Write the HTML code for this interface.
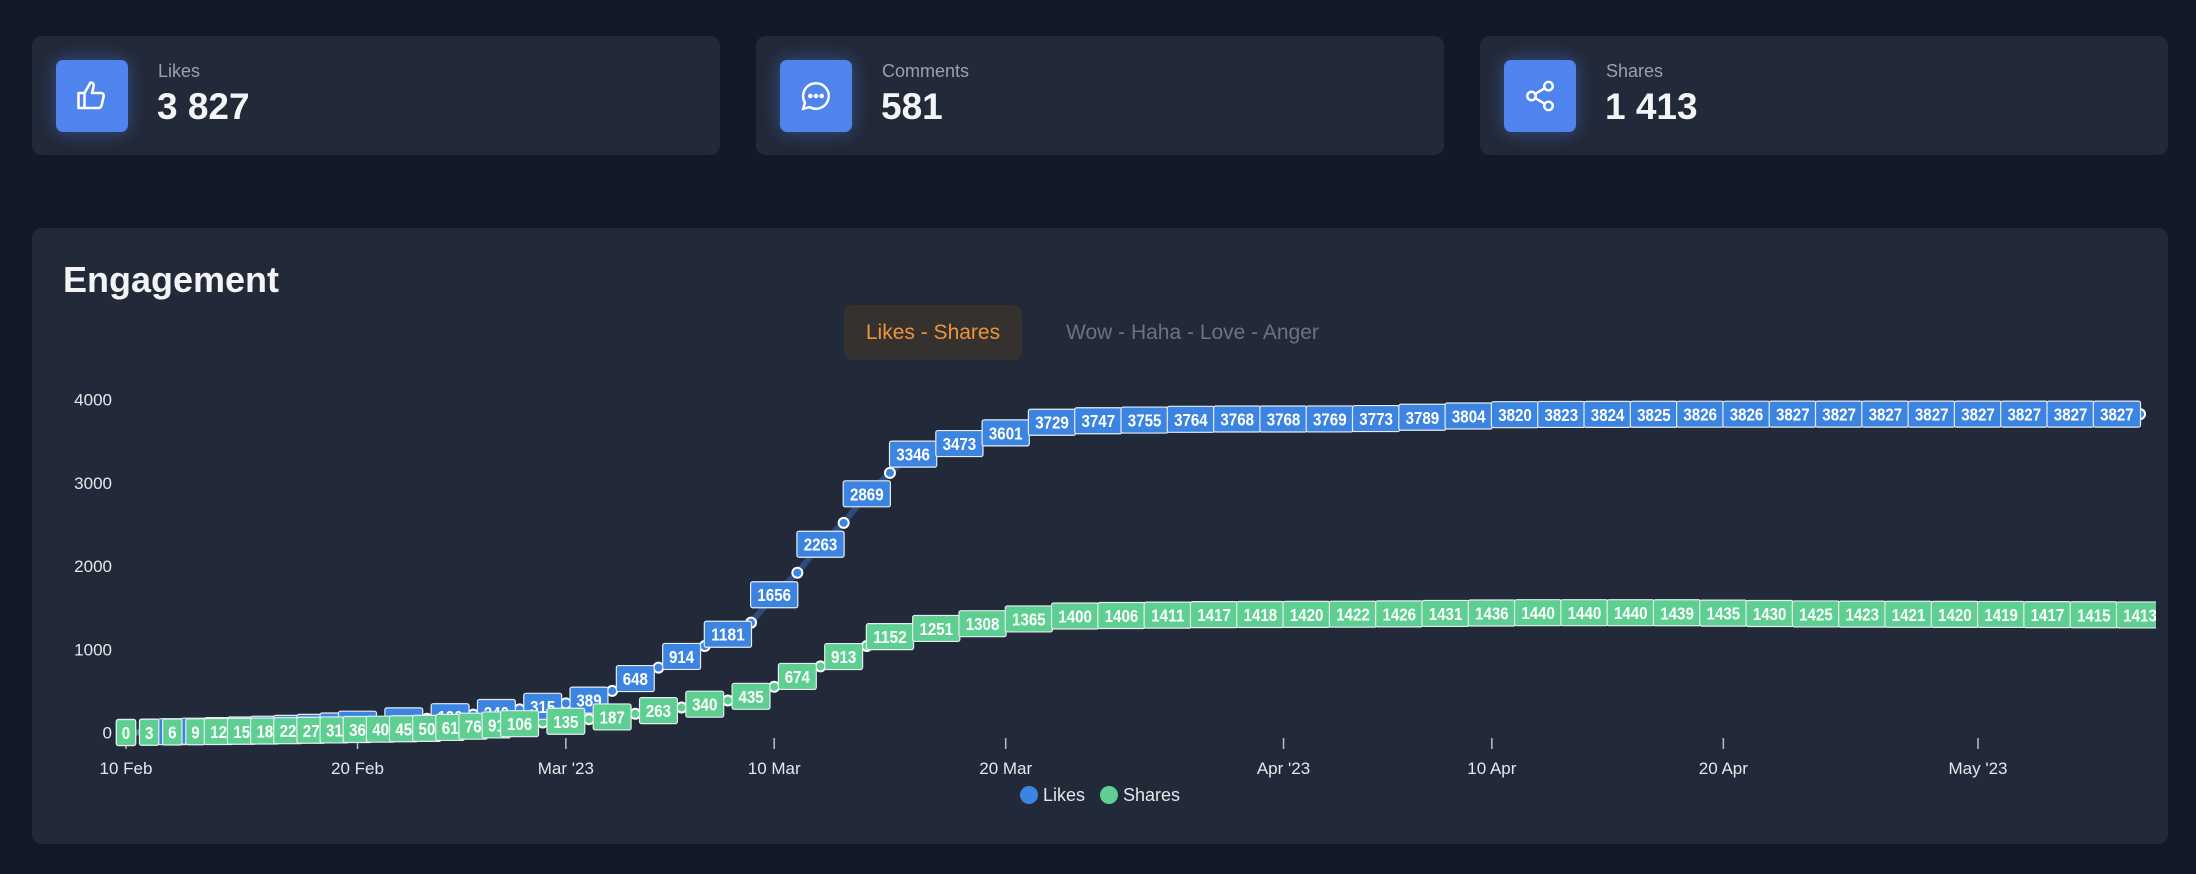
<!DOCTYPE html>
<html><head><meta charset="utf-8"><style>
html,body{margin:0;padding:0;background:#131a27;width:2196px;height:874px;overflow:hidden;font-family:"Liberation Sans",sans-serif}
.card{position:absolute;background:#222938;border-radius:10px}
.stat{top:36px;height:119px;width:688px}
.icon{position:absolute;left:24px;top:24px;width:72px;height:72px;border-radius:7px;background:#4f84ef;box-shadow:0 0 18px rgba(79,132,239,.45);display:flex;align-items:center;justify-content:center}
.lbl{position:absolute;left:126px;top:25px;font-size:18px;color:#9aa1ad}
.val{position:absolute;left:125px;top:50px;font-size:37px;font-weight:600;color:#f4f5f7}
</style></head><body>
<div class="card stat" style="left:32px">
 <div class="icon"><svg width="36" height="36" viewBox="0 0 24 24" fill="none" stroke="#fff" stroke-width="1.7" stroke-linejoin="round"><path d="M3 10h4v10H3zM7 10l4-7c1.5 0 2.5 1 2 3l-1 4h6c1.2 0 2 1 1.8 2.2l-1.4 6c-.2 1-1 1.8-2 1.8H7"/></svg></div>
 <div class="lbl">Likes</div>
 <div class="val">3 827</div>
</div>
<div class="card stat" style="left:756px">
 <div class="icon"><svg width="34" height="34" viewBox="0 0 24 24" fill="none" stroke="#fff" stroke-width="1.7"><path d="M12 3a9 9 0 1 1-4.5 16.8L3 21l1.2-4.3A9 9 0 0 1 12 3z"/><circle cx="8" cy="12" r=".8" fill="#fff"/><circle cx="12" cy="12" r=".8" fill="#fff"/><circle cx="16" cy="12" r=".8" fill="#fff"/></svg></div>
 <div class="lbl">Comments</div>
 <div class="val">581</div>
</div>
<div class="card stat" style="left:1480px">
 <div class="icon"><svg width="34" height="34" viewBox="0 0 24 24" fill="none" stroke="#fff" stroke-width="1.7"><circle cx="18" cy="5" r="3"/><circle cx="6" cy="12" r="3"/><circle cx="18" cy="19" r="3"/><path d="M8.6 10.5l6.8-4M8.6 13.5l6.8 4"/></svg></div>
 <div class="lbl">Shares</div>
 <div class="val">1 413</div>
</div>
<div class="card" style="left:32px;top:228px;width:2136px;height:616px"></div>
<div style="position:absolute;left:63px;top:259px;font-size:36px;font-weight:700;color:#f3f4f6">Engagement</div>
<div style="position:absolute;left:844px;top:305px;width:178px;height:55px;border-radius:8px;background:#35312f;color:#f0923b;font-size:21px;line-height:55px;text-align:center">Likes - Shares</div>
<div style="position:absolute;left:1066px;top:305px;height:55px;color:#6b7280;font-size:21px;line-height:55px">Wow - Haha - Love - Anger</div>
<svg id="chart" width="2196" height="874" style="position:absolute;left:0;top:0">
<defs><clipPath id="clip"><rect x="100" y="380" width="2056" height="400"/></clipPath></defs>
<g id="yaxis"></g><g id="xaxis"></g><g id="plot" clip-path="url(#clip)"></g><g id="legend"></g>
</svg>
<script>
const likes=[0,5,10,16,23,31,40,50,62,78,100,118,140,165,190,215,240,278,315,350,389,500,648,780,914,1040,1181,1320,1656,1920,2263,2520,2869,3120,3346,3420,3473,3540,3601,3670,3729,3740,3747,3752,3755,3760,3764,3766,3768,3768,3768,3769,3769,3771,3773,3780,3789,3797,3804,3812,3820,3822,3823,3824,3824,3825,3825,3826,3826,3826,3826,3827,3827,3827,3827,3827,3827,3827,3827,3827,3827,3827,3827,3827,3827,3827,3827,3827];
const shares=[0,3,6,9,12,15,18,22,27,31,36,40,45,50,61,76,91,106,120,135,160,187,225,263,300,340,385,435,550,674,795,913,1040,1152,1205,1251,1280,1308,1338,1365,1385,1400,1403,1406,1409,1411,1414,1417,1418,1418,1419,1420,1421,1422,1424,1426,1428,1431,1434,1436,1438,1440,1440,1440,1440,1440,1440,1439,1437,1435,1432,1430,1427,1425,1424,1423,1422,1421,1420,1420,1419,1419,1418,1417,1416,1415,1414,1413];
const yTicks=[0,1000,2000,3000,4000];
const xTickDays=[0,10,19,28,38,50,59,69,80];
const xTickLabels=["10 Feb","20 Feb","Mar '23","10 Mar","20 Mar","Apr '23","10 Apr","20 Apr","May '23"];
const NS="http://www.w3.org/2000/svg";
const X=d=>126+23.15*d, Y=v=>732.5-0.0832*v;
function mk(tag,attrs,parent){const e=document.createElementNS(NS,tag);for(const k in attrs)e.setAttribute(k,attrs[k]);parent.appendChild(e);return e;}
const yax=document.getElementById('yaxis'),xax=document.getElementById('xaxis'),plot=document.getElementById('plot'),leg=document.getElementById('legend');
yTicks.forEach(v=>{const t=mk('text',{x:112,y:Y(v)+6,'text-anchor':'end','font-size':17,fill:'#e5e7eb','font-family':'Liberation Sans, sans-serif'},yax);t.textContent=v;

});
xTickDays.forEach((d,i)=>{const l=mk('line',{x1:X(d),x2:X(d),y1:738,y2:749,stroke:'#b8bdc7','stroke-width':1.5},xax);


const t=mk('text',{x:X(d),y:774,'text-anchor':'middle','font-size':17,fill:'#e5e7eb','font-family':'Liberation Sans, sans-serif'},xax);t.textContent=xTickLabels[i];

});
const series=[{d:likes,c:'#3b84e2',n:'likes'},{d:shares,c:'#5ccf91',n:'shares'}];
series.forEach(s=>{const p=mk('path',{d:s.d.map((v,i)=>(i?'L':'M')+X(i)+','+Y(v)).join(''),fill:'none',stroke:s.c,'stroke-opacity':0.4,'stroke-width':6,'stroke-linejoin':'round'},plot);

});
series.forEach(s=>{s.d.forEach((v,i)=>{const c=mk('circle',{cx:X(i),cy:Y(v),r:5,fill:s.c,stroke:'#fff','stroke-width':2},plot);

});});
series.forEach(s=>{let lastX=-1e9,lastDig=0;s.d.forEach((v,i)=>{const str=String(v),dig=str.length,x=X(i);
if(!(dig<=2||lastDig<=2||x-lastX>=40))return;lastX=x;lastDig=dig;
const w=dig*9.3+10,y=Y(v);
const g=mk('g',{},plot);


mk('rect',{x:x-w/2,y:y-13,width:w,height:26,rx:2,fill:s.c,stroke:'#e8ecf2','stroke-width':1.2},g);
const t=mk('text',{x:x,y:y+6.5,'text-anchor':'middle','font-size':17.5,'font-weight':700,fill:'#fff','font-family':'Liberation Sans, sans-serif',textLength:dig*8.4,lengthAdjust:'spacingAndGlyphs'},g);t.textContent=str;});});
[['Likes','#3b84e2',1029],['Shares','#5ccf91',1109]].forEach(([n,c,x])=>{const g=mk('g',{},leg);


mk('circle',{cx:x,cy:795,r:9,fill:c},g);
const t=mk('text',{x:x+14,y:801,'font-size':18,fill:'#e5e7eb','font-family':'Liberation Sans, sans-serif'},g);t.textContent=n;});
</script>
</body></html>
